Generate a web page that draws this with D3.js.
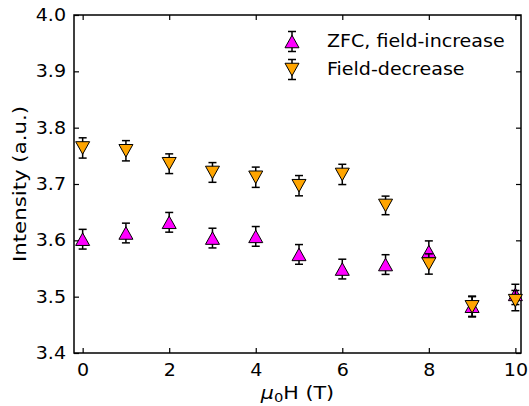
<!DOCTYPE html>
<html><head><meta charset="utf-8">
<script src="https://cdn.jsdelivr.net/npm/d3@7"></script>
<style>body{margin:0;background:#fff}svg{display:block}text{font-family:"DejaVu Sans",sans-serif}</style>
</head><body>
<svg id="c" width="529" height="406"></svg>
<script>
const fields = [0,1,2,3,4,5,6,7,8,9,10];
const zfcValues = [3.602,3.613,3.632,3.604,3.607,3.575,3.549,3.557,3.580,3.483,3.504];
const zfcErrors = [0.0175,0.0175,0.0175,0.0175,0.0175,0.0175,0.0175,0.0175,0.019,0.018,0.018];
const decValues = [3.764,3.759,3.736,3.7205,3.712,3.697,3.717,3.662,3.558,3.482,3.493];
const decErrors = [0.018,0.018,0.0175,0.0175,0.018,0.018,0.018,0.0165,0.018,0.018,0.018];
const xTicks = [0,2,4,6,8,10];
const yTicks = [3.4,3.5,3.6,3.7,3.8,3.9,4.0];
const seriesNames = ["ZFC, field-increase","Field-decrease"];
const seriesColors = ["#ff00ff","#ffa500"];

const svg = d3.select("#c");
const L=74,R=521,T=15,B=353;
const x = d3.scaleLinear().domain([-0.2,10.13]).range([L,R]);
const y = d3.scaleLinear().domain([3.4,4.0]).range([B,T]);

function stretch(sel, f){
  sel.each(function(){
    const w = this.getComputedTextLength();
    d3.select(this).attr("textLength", w*f).attr("lengthAdjust","spacingAndGlyphs");
  });
}

const fs = 17;
const ax = svg.append("g").attr("transform",`translate(0,${B})`)
  .call(d3.axisBottom(x).tickValues(xTicks).tickSize(-5).tickPadding(9).tickFormat(d3.format("d")));
const axT = svg.append("g").attr("transform",`translate(0,${T})`)
  .call(d3.axisTop(x).tickValues(xTicks).tickSize(-5).tickFormat(""));
const ay = svg.append("g").attr("transform",`translate(${L},0)`)
  .call(d3.axisLeft(y).tickValues(yTicks).tickSize(-5).tickPadding(8).tickFormat(d3.format(".1f")));
const ayR = svg.append("g").attr("transform",`translate(${R},0)`)
  .call(d3.axisRight(y).tickValues(yTicks).tickSize(-5).tickFormat(""));
[ax,axT,ay,ayR].forEach(g=>{
  g.select(".domain").remove();
  g.selectAll(".tick line").attr("stroke","#000").attr("stroke-width",1.2);
  g.selectAll(".tick text").attr("font-size",fs).attr("fill","#000").attr("font-family","DejaVu Sans");
});
ax.selectAll(".tick text").attr("dy",0).attr("y",23);
stretch(ax.selectAll(".tick text"),1.12);
stretch(ay.selectAll(".tick text"),1.12);
svg.append("rect").attr("x",L).attr("y",T).attr("width",R-L).attr("height",B-T)
  .attr("fill","none").attr("stroke","#000").attr("stroke-width",1.5);

// labels
const yl = svg.append("text").attr("transform",`translate(26,${(T+B)/2}) rotate(-90)`)
  .attr("text-anchor","middle").attr("font-size",17).text("Intensity (a.u.)");
yl.attr("textLength",156).attr("lengthAdjust","spacingAndGlyphs");
const xl = svg.append("text").attr("x",(L+R)/2).attr("y",399).attr("text-anchor","middle").attr("font-size",17.5);
xl.append("tspan").attr("font-style","italic").text("μ");
xl.append("tspan").attr("font-size",12.5).attr("dy",3).text("0");
xl.append("tspan").attr("dy",-3).text("H (T)");
stretch(xl,1.18);

function tri(up, w, h){
  return up ? `M0,${-h/2}L${w/2},${h/2}L${-w/2},${h/2}Z` : `M0,${h/2}L${w/2},${-h/2}L${-w/2},${-h/2}Z`;
}
function drawSeries(vals, errs, color, up){
  const g = svg.append("g");
  const data = fields.map((f,i)=>({f,v:vals[i],e:errs[i]}));
  const eb = g.selectAll(".eb").data(data).join("g");
  eb.append("line").attr("x1",d=>x(d.f)).attr("x2",d=>x(d.f)).attr("y1",d=>y(d.v+d.e)).attr("y2",d=>y(d.v-d.e)).attr("stroke","#000").attr("stroke-width",1.5);
  eb.append("line").attr("x1",d=>x(d.f)-4).attr("x2",d=>x(d.f)+4).attr("y1",d=>y(d.v+d.e)).attr("y2",d=>y(d.v+d.e)).attr("stroke","#000").attr("stroke-width",1.5);
  eb.append("line").attr("x1",d=>x(d.f)-4).attr("x2",d=>x(d.f)+4).attr("y1",d=>y(d.v-d.e)).attr("y2",d=>y(d.v-d.e)).attr("stroke","#000").attr("stroke-width",1.5);
  g.selectAll(".m").data(data).join("path").attr("d",tri(up,14,12.5))
    .attr("transform",d=>`translate(${x(d.f)},${y(d.v)})`)
    .attr("fill",color).attr("stroke","#000").attr("stroke-width",1);
}
drawSeries(zfcValues,zfcErrors,seriesColors[0],true);
drawSeries(decValues,decErrors,seriesColors[1],false);

// legend
const lg = svg.append("g");
seriesNames.forEach((n,i)=>{
  const cy = 41.5 + i*28, cx = 292;
  lg.append("line").attr("x1",cx).attr("x2",cx).attr("y1",cy-10).attr("y2",cy+10).attr("stroke","#000").attr("stroke-width",1.5);
  lg.append("line").attr("x1",cx-4).attr("x2",cx+4).attr("y1",cy-10).attr("y2",cy-10).attr("stroke","#000").attr("stroke-width",1.5);
  lg.append("line").attr("x1",cx-4).attr("x2",cx+4).attr("y1",cy+10).attr("y2",cy+10).attr("stroke","#000").attr("stroke-width",1.5);
  lg.append("path").attr("d",tri(i===0,14,12.5)).attr("transform",`translate(${cx},${cy})`)
    .attr("fill",seriesColors[i]).attr("stroke","#000").attr("stroke-width",1);
  const t = lg.append("text").attr("x",327).attr("y",cy+5).attr("font-size",17).text(n);
  stretch(t,1.12);
});
</script>
</body></html>
